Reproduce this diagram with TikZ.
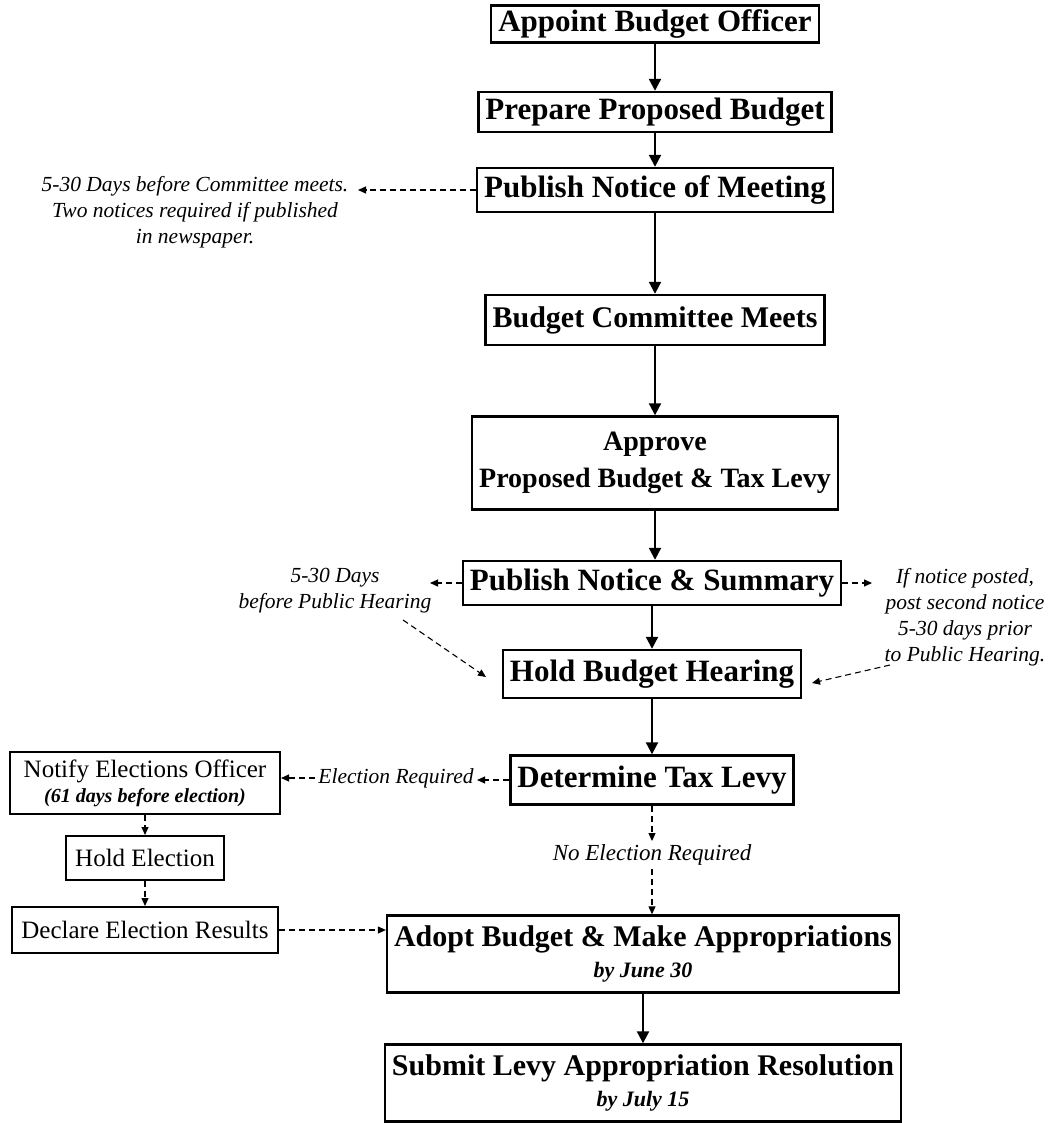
\documentclass[tikz,border=0pt]{standalone}
\usepackage{fontspec}
\setmainfont{Liberation Serif}
\usetikzlibrary{arrows.meta,positioning}
\tikzstyle{stepbox} = [draw,line width=2.4pt,inner xsep=7pt,inner ysep=4pt,align=center,font=\fontsize{31}{37}\selectfont\bfseries]
\tikzstyle{votebox} = [draw,line width=2pt,inner xsep=9pt,inner ysep=4pt,align=center,font=\fontsize{25}{29}\selectfont]
\tikzstyle{note} = [align=center,font=\fontsize{21.5}{26}\selectfont\itshape]
\tikzstyle{flow} = [line width=2.2pt,-{Triangle[length=12pt,width=12pt]}]
\tikzstyle{maybe} = [line width=1.1pt,dash pattern=on 6pt off 4pt,-{Triangle[length=8pt,width=7pt]}]
\begin{document}
\begin{tikzpicture}[x=1pt,y=-1pt]
    \useasboundingbox (0,0) rectangle (1059,1123);
    % main column
    \node[stepbox] (appoint) at (655,24) {Appoint Budget Officer};
    \node[stepbox,minimum height=40pt] (prepare) at (655,112) {Prepare Proposed Budget};
    \node[stepbox,minimum height=44pt] (pubmeet) at (655,190) {Publish Notice of Meeting};
    \node[stepbox,minimum height=50pt,font=\fontsize{30}{36}\selectfont\bfseries] (meets) at (655,320) {Budget Committee Meets};
    \node[stepbox,minimum height=93pt,font=\fontsize{28}{37}\selectfont\bfseries] (approve) at (655,463) {Approve\\Proposed Budget \& Tax Levy};
    \node[stepbox,minimum height=44pt] (pubsum) at (652,583) {Publish Notice \& Summary};
    \node[stepbox,minimum height=48pt] (hearing) at (652,674) {Hold Budget Hearing};
    \node[stepbox,minimum height=49pt] (levy) at (652,780) {Determine Tax Levy};
    \node[note,font=\fontsize{23}{27}\selectfont\itshape] (noelect) at (652,855) {No Election Required};
    \node[stepbox,minimum width=511pt,minimum height=77pt,font=\fontsize{30}{36}\selectfont\bfseries] (adopt) at (643,954) {Adopt Budget \& Make Appropriations\\[-5pt]{\fontsize{22}{24}\selectfont\itshape by June 30}};
    \node[stepbox,minimum width=511pt,minimum height=77pt,font=\fontsize{30}{36}\selectfont\bfseries] (submit) at (643,1083) {Submit Levy Appropriation Resolution\\[-5pt]{\fontsize{22}{24}\selectfont\itshape by July 15}};

    % election branch
    \node[votebox,minimum width=270pt,minimum height=62pt] (notify) at (145,783) {Notify Elections Officer\\[-4pt]{\fontsize{20}{22}\selectfont\bfseries\itshape (61 days before election)}};
    \node[votebox,minimum height=44pt] (holdvote) at (145,858) {Hold Election};
    \node[votebox,minimum height=46pt] (declare) at (145,930) {Declare Election Results};

    % notes
    \node[note] (meetnote) at (195,212) {5-30 Days before Committee meets.\\Two notices required if published\\in newspaper.};
    \node[note] (hearnote) at (335,591) {5-30 Days\\before Public Hearing};
    \node[note] (postnote) at (965,617) {If notice posted,\\post second notice\\5-30 days prior\\to Public Hearing.};
    \node[note] (elect) at (396,778) {Election Required};
    \coordinate (meetend) at (358,190);
    \coordinate (hearend) at (430,583);
    \coordinate (postend) at (872,583);
    \coordinate (hearfrom) at (403,620);
    \coordinate (hearto) at (486,677);
    \coordinate (postfrom) at (890,665);
    \coordinate (postto) at (812,683);

    \draw[flow] (appoint) -- (prepare);
    \draw[flow] (prepare) -- (pubmeet);
    \draw[flow] (pubmeet) -- (meets);
    \draw[flow] (meets) -- (approve);
    \draw[flow] (approve.south) -- (approve.south |- pubsum.north);
    \draw[flow] (pubsum) -- (hearing);
    \draw[flow] (hearing) -- (levy);
    \draw[flow] (adopt) -- (submit);

    \draw[maybe] (pubmeet.west) -- (pubmeet.west -| meetend);
    \draw[maybe] (pubsum.west) -- (pubsum.west -| hearend);
    \draw[maybe] (pubsum.east) -- (pubsum.east -| postend);
    \draw[maybe] (hearfrom) -- (hearto);
    \draw[maybe] (postfrom) -- (postto);
    \draw[maybe] (levy.west) -- (levy.west -| elect.east);
    \draw[maybe] (elect.west) -- (elect.west -| notify.east);
    \draw[maybe] (levy) -- (noelect);
    \draw[maybe] (noelect.south) -- (noelect.south |- adopt.north);
    \draw[maybe] (notify) -- (holdvote);
    \draw[maybe] (holdvote) -- (declare);
    \draw[maybe] (declare.east) -- (declare.east -| adopt.west);
\end{tikzpicture}
\end{document}
